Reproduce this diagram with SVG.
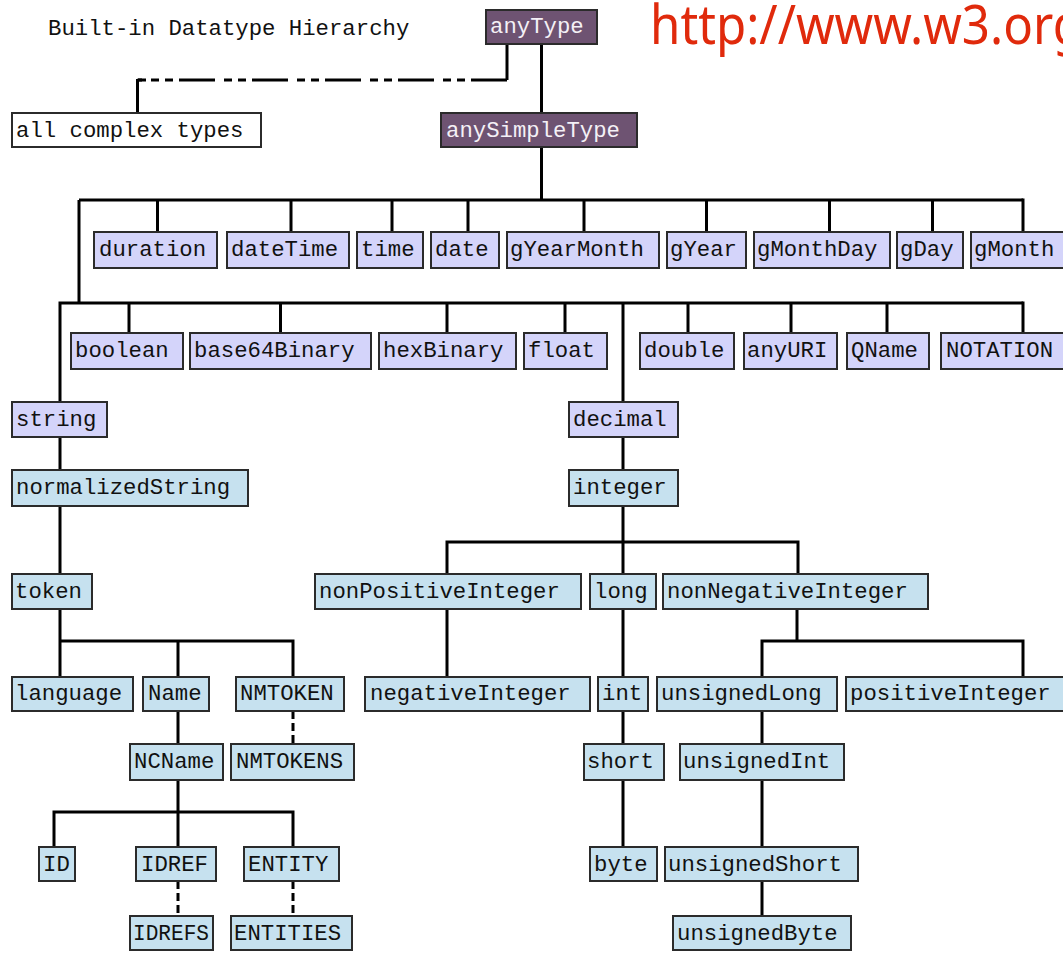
<svg xmlns="http://www.w3.org/2000/svg" width="1063" height="953" viewBox="0 0 1063 953">
<style>
.bx{stroke:#2b2b2b;stroke-width:2}
.prim{fill:#d4d4fa}
.der{fill:#c6e1ef}
.dark{fill:#6e5372}
.wht{fill:#ffffff}
.t{font-family:"Liberation Mono","DejaVu Sans Mono",monospace;font-size:22.3px;fill:#111}
.tw{font-family:"Liberation Mono","DejaVu Sans Mono",monospace;font-size:22.3px;fill:#f4f0f6}
.ln{fill:none;stroke:#000;stroke-width:3}
.dl{fill:none;stroke:#000;stroke-width:3;stroke-dasharray:8 4}
</style>
<rect width="1063" height="953" fill="#ffffff"/>
<text x="48" y="35" class="t">Built-in Datatype Hierarchy</text>
<text x="650" y="44" font-family="'Noto Sans','Open Sans',sans-serif" font-size="55" fill="#e02a0c" textLength="433" lengthAdjust="spacingAndGlyphs">http://www.w3.org</text>
<g id="connectors">
<path class="ln" d="M541.5 44V113"/>
<path class="ln" d="M507 43V80"/>
<path class="ln" d="M507 80H138" style="stroke-dasharray:36 6 8 6 8 9"/>
<path class="ln" d="M137.5 80H146M137.5 79V113"/>
<path class="ln" d="M541.5 147V200M79 200H1023M79 200V303"/>
<path class="ln" d="M157.5 200V232M291 200V232M392 200V232M468 200V232M584 200V232M706.5 200V232M829.5 200V232M932.5 200V232M1023 198.5V232"/>
<path class="ln" d="M60 303H1023M60 301.5V402M623 303V402"/>
<path class="ln" d="M129 303V333M280.5 303V333M447 303V333M565 303V333M688 303V333M791 303V333M887 303V333M1023 301.5V333"/>
<path class="ln" d="M60 437V470M60 506V574M623 437V470M623 506V542M447 542H798M447 540.5V574M798 540.5V574M623 542V574"/>
<path class="ln" d="M60 609V641M60 641H293M60 641V677M178 641V677M293 639.5V677"/>
<path class="ln" d="M447 609V677M623 609V677M797 609V641M762 641H1023M762 639.5V677M1023 639.5V677"/>
<path class="ln" d="M178 711V744M623 711V744M762 711V744"/>
<path class="dl" d="M293 711V744"/>
<path class="ln" d="M178 780V812M54 812H293M54 810.5V847M178 812V847M293 810.5V847"/>
<path class="ln" d="M623 780V847M762 780V847M762 881V916"/>
<path class="dl" d="M178 881V916M293 881V916"/>
</g>
<g id="n-anyType"><rect class="bx dark" x="486" y="10" width="111" height="34"/><text class="tw" x="490" y="33">anyType</text></g>
<g id="n-allComplexTypes"><rect class="bx wht" x="12" y="113" width="249" height="34"/><text class="t" x="16" y="137">all complex types</text></g>
<g id="n-anySimpleType"><rect class="bx dark" x="441" y="113" width="196" height="34"/><text class="tw" x="446" y="137">anySimpleType</text></g>

<g id="n-duration"><rect class="bx prim" x="94" y="232" width="123" height="36"/><text class="t" x="99" y="256">duration</text></g>
<g id="n-dateTime"><rect class="bx prim" x="227" y="232" width="122" height="36"/><text class="t" x="231" y="256">dateTime</text></g>
<g id="n-time"><rect class="bx prim" x="357" y="232" width="66" height="36"/><text class="t" x="361" y="256">time</text></g>
<g id="n-date"><rect class="bx prim" x="431" y="232" width="68" height="36"/><text class="t" x="435" y="256">date</text></g>
<g id="n-gYearMonth"><rect class="bx prim" x="507" y="232" width="152" height="36"/><text class="t" x="510" y="256">gYearMonth</text></g>
<g id="n-gYear"><rect class="bx prim" x="667" y="232" width="79" height="36"/><text class="t" x="670" y="256">gYear</text></g>
<g id="n-gMonthDay"><rect class="bx prim" x="754" y="232" width="136" height="36"/><text class="t" x="757" y="256">gMonthDay</text></g>
<g id="n-gDay"><rect class="bx prim" x="897" y="232" width="66" height="36"/><text class="t" x="900" y="256">gDay</text></g>
<g id="n-gMonth"><rect class="bx prim" x="971" y="232" width="100" height="36"/><text class="t" x="974" y="256">gMonth</text></g>

<g id="n-boolean"><rect class="bx prim" x="71" y="333" width="112" height="36"/><text class="t" x="75" y="357">boolean</text></g>
<g id="n-base64Binary"><rect class="bx prim" x="190" y="333" width="181" height="36"/><text class="t" x="194" y="357">base64Binary</text></g>
<g id="n-hexBinary"><rect class="bx prim" x="379" y="333" width="137" height="36"/><text class="t" x="383" y="357">hexBinary</text></g>
<g id="n-float"><rect class="bx prim" x="524" y="333" width="83" height="36"/><text class="t" x="528" y="357">float</text></g>
<g id="n-double"><rect class="bx prim" x="640" y="333" width="94" height="36"/><text class="t" x="644" y="357">double</text></g>
<g id="n-anyURI"><rect class="bx prim" x="744" y="333" width="93" height="36"/><text class="t" x="747" y="357">anyURI</text></g>
<g id="n-QName"><rect class="bx prim" x="847" y="333" width="82" height="36"/><text class="t" x="851" y="357">QName</text></g>
<g id="n-NOTATION"><rect class="bx prim" x="941" y="333" width="130" height="36"/><text class="t" x="946" y="357">NOTATION</text></g>

<g id="n-string"><rect class="bx prim" x="12" y="402" width="95" height="35"/><text class="t" x="16" y="426">string</text></g>
<g id="n-decimal"><rect class="bx prim" x="569" y="402" width="109" height="35"/><text class="t" x="573" y="426">decimal</text></g>
<g id="n-normalizedString"><rect class="bx der" x="12" y="470" width="236" height="36"/><text class="t" x="16" y="494">normalizedString</text></g>
<g id="n-integer"><rect class="bx der" x="569" y="470" width="109" height="36"/><text class="t" x="573" y="494">integer</text></g>

<g id="n-token"><rect class="bx der" x="12" y="574" width="80" height="35"/><text class="t" x="15" y="598">token</text></g>
<g id="n-nonPositiveInteger"><rect class="bx der" x="315" y="574" width="266" height="35"/><text class="t" x="319" y="598">nonPositiveInteger</text></g>
<g id="n-long"><rect class="bx der" x="590" y="574" width="66" height="35"/><text class="t" x="594" y="598">long</text></g>
<g id="n-nonNegativeInteger"><rect class="bx der" x="663" y="574" width="265" height="35"/><text class="t" x="667" y="598">nonNegativeInteger</text></g>

<g id="n-language"><rect class="bx der" x="12" y="677" width="121" height="34"/><text class="t" x="15" y="700">language</text></g>
<g id="n-Name"><rect class="bx der" x="143" y="677" width="66" height="34"/><text class="t" x="148" y="700">Name</text></g>
<g id="n-NMTOKEN"><rect class="bx der" x="236" y="677" width="108" height="34"/><text class="t" x="240" y="700">NMTOKEN</text></g>
<g id="n-negativeInteger"><rect class="bx der" x="365" y="677" width="225" height="34"/><text class="t" x="370" y="700">negativeInteger</text></g>
<g id="n-int"><rect class="bx der" x="598" y="677" width="50" height="34"/><text class="t" x="602" y="700">int</text></g>
<g id="n-unsignedLong"><rect class="bx der" x="657" y="677" width="180" height="34"/><text class="t" x="661" y="700">unsignedLong</text></g>
<g id="n-positiveInteger"><rect class="bx der" x="846" y="677" width="222" height="34"/><text class="t" x="850" y="700">positiveInteger</text></g>

<g id="n-NCName"><rect class="bx der" x="130" y="744" width="93" height="36"/><text class="t" x="134" y="768">NCName</text></g>
<g id="n-NMTOKENS"><rect class="bx der" x="231" y="744" width="123" height="36"/><text class="t" x="236" y="768">NMTOKENS</text></g>
<g id="n-short"><rect class="bx der" x="584" y="744" width="80" height="36"/><text class="t" x="587" y="768">short</text></g>
<g id="n-unsignedInt"><rect class="bx der" x="680" y="744" width="164" height="36"/><text class="t" x="683" y="768">unsignedInt</text></g>

<g id="n-ID"><rect class="bx der" x="39" y="847" width="36" height="34"/><text class="t" x="43" y="871">ID</text></g>
<g id="n-IDREF"><rect class="bx der" x="136" y="847" width="80" height="34"/><text class="t" x="141" y="871">IDREF</text></g>
<g id="n-ENTITY"><rect class="bx der" x="244" y="847" width="95" height="34"/><text class="t" x="248" y="871">ENTITY</text></g>
<g id="n-byte"><rect class="bx der" x="590" y="847" width="67" height="34"/><text class="t" x="594" y="871">byte</text></g>
<g id="n-unsignedShort"><rect class="bx der" x="665" y="847" width="193" height="34"/><text class="t" x="668" y="871">unsignedShort</text></g>

<g id="n-IDREFS"><rect class="bx der" x="130" y="916" width="83" height="34"/><text class="t" x="133" y="940" textLength="76" lengthAdjust="spacingAndGlyphs">IDREFS</text></g>
<g id="n-ENTITIES"><rect class="bx der" x="231" y="916" width="121" height="34"/><text class="t" x="234" y="940">ENTITIES</text></g>
<g id="n-unsignedByte"><rect class="bx der" x="673" y="916" width="178" height="34"/><text class="t" x="677" y="940">unsignedByte</text></g>
</svg>
